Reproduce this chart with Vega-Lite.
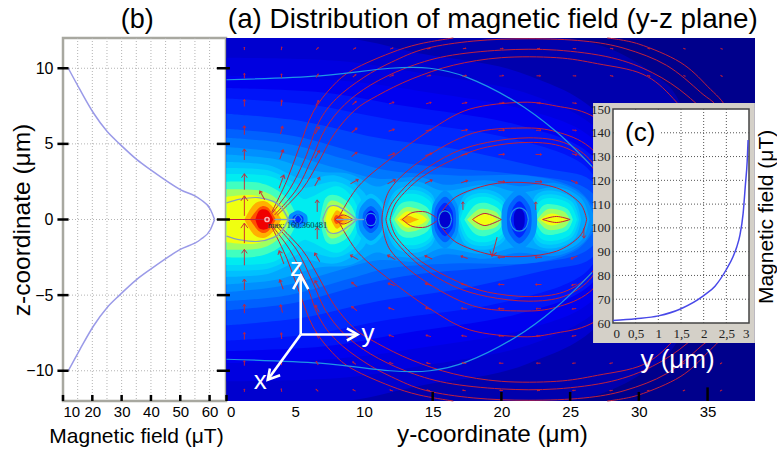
{"$schema":"https://vega.github.io/schema/vega-lite/v6.json","width":777,"height":452,"padding":0,"autosize":"none","background":"white","config":{"view":{"stroke":null},"font":"Liberation Sans","axis":{"grid":false,"domain":false,"ticks":false,"labelColor":"#000","labelFont":"Liberation Sans","titleFont":"Liberation Sans","titleColor":"#000","titleFontWeight":"normal"}},
"datasets":{
"field":[
{"l":0,"i":"bg","y":0,"t":12,"b":-12},{"l":0,"i":"bg","y":38.45,"t":12,"b":-12},
{"l":1,"i":"l1","y":0,"t":12,"b":-12},{"l":1,"i":"l1","y":24,"t":12,"b":-12},{"l":1,"i":"l1","y":32,"t":9,"b":-9},{"l":1,"i":"l1","y":36,"t":0,"b":0},
{"l":2,"i":"l2","y":0,"t":12,"b":-12},{"l":2,"i":"l2","y":8,"t":12,"b":-12},{"l":2,"i":"l2","y":14,"t":11,"b":-11},{"l":2,"i":"l2","y":22,"t":9.5,"b":-9.5},{"l":2,"i":"l2","y":28,"t":6,"b":-6},{"l":2,"i":"l2","y":31,"t":0,"b":0},
{"l":2.5,"i":"l25","y":0,"t":10.7,"b":-10.7},{"l":2.5,"i":"l25","y":8,"t":10.5,"b":-10.5},{"l":2.5,"i":"l25","y":14,"t":9.7,"b":-9.7},{"l":2.5,"i":"l25","y":22,"t":8.3,"b":-8.3},{"l":2.5,"i":"l25","y":27.5,"t":5.5,"b":-5.5},{"l":2.5,"i":"l25","y":30,"t":0,"b":0},
{"l":3,"i":"l3","y":0,"t":9.5,"b":-9.5},{"l":3,"i":"l3","y":8,"t":9.2,"b":-9.2},{"l":3,"i":"l3","y":14,"t":8.5,"b":-8.5},{"l":3,"i":"l3","y":22,"t":7.2,"b":-7.2},{"l":3,"i":"l3","y":27,"t":5,"b":-5},{"l":3,"i":"l3","y":29,"t":0,"b":0},
{"l":3.5,"i":"l35","y":0,"t":8.7,"b":-8.7},{"l":3.5,"i":"l35","y":7,"t":8.4,"b":-8.4},{"l":3.5,"i":"l35","y":13,"t":7.5,"b":-7.5},{"l":3.5,"i":"l35","y":21,"t":6.3,"b":-6.3},{"l":3.5,"i":"l35","y":26.5,"t":4.3,"b":-4.3},{"l":3.5,"i":"l35","y":28.5,"t":0,"b":0},
{"l":4,"i":"l4","y":0,"t":8,"b":-8},{"l":4,"i":"l4","y":6,"t":7.6,"b":-7.6},{"l":4,"i":"l4","y":12,"t":6.6,"b":-6.6},{"l":4,"i":"l4","y":20,"t":5.5,"b":-5.5},{"l":4,"i":"l4","y":26,"t":3.6,"b":-3.6},{"l":4,"i":"l4","y":28,"t":0,"b":0},
{"l":4.5,"i":"l45","y":0,"t":7,"b":-7},{"l":4.5,"i":"l45","y":5.5,"t":6.5,"b":-6.5},{"l":4.5,"i":"l45","y":11,"t":5.4,"b":-5.4},{"l":4.5,"i":"l45","y":17,"t":4.6,"b":-4.6},{"l":4.5,"i":"l45","y":23,"t":3.4,"b":-3.4},{"l":4.5,"i":"l45","y":26.5,"t":2.6,"b":-2.6},{"l":4.5,"i":"l45","y":27.8,"t":0,"b":0},
{"l":5,"i":"l5","y":0,"t":6,"b":-6},{"l":5,"i":"l5","y":5,"t":5.5,"b":-5.5},{"l":5,"i":"l5","y":10,"t":4.3,"b":-4.3},{"l":5,"i":"l5","y":14,"t":3.6,"b":-3.6},{"l":5,"i":"l5","y":20,"t":3.1,"b":-3.1},{"l":5,"i":"l5","y":25,"t":2.5,"b":-2.5},{"l":5,"i":"l5","y":27,"t":1.4,"b":-1.4},{"l":5,"i":"l5","y":27.6,"t":0,"b":0},
{"l":5.5,"i":"l55","y":0,"t":5.4,"b":-5.4},{"l":5.5,"i":"l55","y":4.5,"t":5,"b":-5},{"l":5.5,"i":"l55","y":9,"t":3.9,"b":-3.9},{"l":5.5,"i":"l55","y":12,"t":3.2,"b":-3.2},{"l":5.5,"i":"l55","y":17,"t":2.9,"b":-2.9},{"l":5.5,"i":"l55","y":22,"t":2.9,"b":-2.9},{"l":5.5,"i":"l55","y":25.5,"t":2,"b":-2},{"l":5.5,"i":"l55","y":27.2,"t":0,"b":0},
{"l":6,"i":"l6","y":0,"t":4.8,"b":-4.8},{"l":6,"i":"l6","y":4,"t":4.4,"b":-4.4},{"l":6,"i":"l6","y":8,"t":3.4,"b":-3.4},{"l":6,"i":"l6","y":11,"t":2.7,"b":-2.7},{"l":6,"i":"l6","y":14,"t":2.8,"b":-2.8},{"l":6,"i":"l6","y":16,"t":2.3,"b":-2.3},{"l":6,"i":"l6","y":18.8,"t":2.6,"b":-2.6},{"l":6,"i":"l6","y":21.3,"t":2.2,"b":-2.2},{"l":6,"i":"l6","y":24,"t":2.4,"b":-2.4},{"l":6,"i":"l6","y":26,"t":1.5,"b":-1.5},{"l":6,"i":"l6","y":26.8,"t":0,"b":0},
{"l":6.5,"i":"l65","y":0,"t":4.3,"b":-4.3},{"l":6.5,"i":"l65","y":3.5,"t":4,"b":-4},{"l":6.5,"i":"l65","y":6.5,"t":3.2,"b":-3.2},{"l":6.5,"i":"l65","y":9,"t":3,"b":-3},{"l":6.5,"i":"l65","y":10.8,"t":2.2,"b":-2.2},{"l":6.5,"i":"l65","y":12,"t":2.4,"b":-2.4},{"l":6.5,"i":"l65","y":14,"t":2.5,"b":-2.5},{"l":6.5,"i":"l65","y":15.8,"t":1.9,"b":-1.9},{"l":6.5,"i":"l65","y":18.8,"t":2.3,"b":-2.3},{"l":6.5,"i":"l65","y":21.3,"t":1.8,"b":-1.8},{"l":6.5,"i":"l65","y":24,"t":2.15,"b":-2.15},{"l":6.5,"i":"l65","y":25.8,"t":1.4,"b":-1.4},{"l":6.5,"i":"l65","y":26.4,"t":0,"b":0},
{"l":7,"i":"7a","y":0,"t":3.8,"b":-3.8},{"l":7,"i":"7a","y":3,"t":3.6,"b":-3.6},{"l":7,"i":"7a","y":5.5,"t":2.7,"b":-2.7},{"l":7,"i":"7a","y":8,"t":2.9,"b":-2.9},{"l":7,"i":"7a","y":10,"t":1.8,"b":-1.8},{"l":7,"i":"7a","y":10.6,"t":0,"b":0},
{"l":7,"i":"7c","y":11.4,"t":0,"b":0},{"l":7,"i":"7c","y":12.2,"t":1.8,"b":-1.8},{"l":7,"i":"7c","y":13.7,"t":2.2,"b":-2.2},{"l":7,"i":"7c","y":15,"t":1.6,"b":-1.6},{"l":7,"i":"7c","y":15.4,"t":0,"b":0},
{"l":7,"i":"7d","y":16.7,"t":0,"b":0},{"l":7,"i":"7d","y":17.3,"t":1.6,"b":-1.6},{"l":7,"i":"7d","y":18.8,"t":2,"b":-2},{"l":7,"i":"7d","y":20.2,"t":1.4,"b":-1.4},{"l":7,"i":"7d","y":20.5,"t":0,"b":0},
{"l":7,"i":"7e","y":21.9,"t":0,"b":0},{"l":7,"i":"7e","y":22.5,"t":1.6,"b":-1.6},{"l":7,"i":"7e","y":23.8,"t":1.9,"b":-1.9},{"l":7,"i":"7e","y":25.3,"t":1.3,"b":-1.3},{"l":7,"i":"7e","y":25.8,"t":0,"b":0},
{"l":7.5,"i":"75a","y":0,"t":3.4,"b":-3.4},{"l":7.5,"i":"75a","y":3,"t":3.25,"b":-3.25},{"l":7.5,"i":"75a","y":5,"t":2.4,"b":-2.4},{"l":7.5,"i":"75a","y":5.8,"t":2.1,"b":-2.1},{"l":7.5,"i":"75a","y":8,"t":2.5,"b":-2.5},{"l":7.5,"i":"75a","y":9.6,"t":1.6,"b":-1.6},{"l":7.5,"i":"75a","y":10.2,"t":0,"b":0},
{"l":7.5,"i":"75c","y":11.55,"t":0,"b":0},{"l":7.5,"i":"75c","y":12.3,"t":1.6,"b":-1.6},{"l":7.5,"i":"75c","y":13.65,"t":1.95,"b":-1.95},{"l":7.5,"i":"75c","y":14.9,"t":1.4,"b":-1.4},{"l":7.5,"i":"75c","y":15.3,"t":0,"b":0},
{"l":7.5,"i":"75d","y":16.85,"t":0,"b":0},{"l":7.5,"i":"75d","y":17.45,"t":1.4,"b":-1.4},{"l":7.5,"i":"75d","y":18.8,"t":1.75,"b":-1.75},{"l":7.5,"i":"75d","y":20.1,"t":1.2,"b":-1.2},{"l":7.5,"i":"75d","y":20.4,"t":0,"b":0},
{"l":7.5,"i":"75e","y":22.05,"t":0,"b":0},{"l":7.5,"i":"75e","y":22.65,"t":1.4,"b":-1.4},{"l":7.5,"i":"75e","y":23.8,"t":1.65,"b":-1.65},{"l":7.5,"i":"75e","y":25.15,"t":1.15,"b":-1.15},{"l":7.5,"i":"75e","y":25.65,"t":0,"b":0},
{"l":8,"i":"8a","y":0,"t":3,"b":-3},{"l":8,"i":"8a","y":3,"t":2.9,"b":-2.9},{"l":8,"i":"8a","y":4.5,"t":2.2,"b":-2.2},{"l":8,"i":"8a","y":5.5,"t":1.4,"b":-1.4},{"l":8,"i":"8a","y":6.2,"t":1.5,"b":-1.5},{"l":8,"i":"8a","y":8,"t":2.2,"b":-2.2},{"l":8,"i":"8a","y":9.2,"t":1.4,"b":-1.4},{"l":8,"i":"8a","y":9.8,"t":0,"b":0},
{"l":8,"i":"8c","y":11.7,"t":0,"b":0},{"l":8,"i":"8c","y":12.4,"t":1.4,"b":-1.4},{"l":8,"i":"8c","y":13.6,"t":1.7,"b":-1.7},{"l":8,"i":"8c","y":14.8,"t":1.2,"b":-1.2},{"l":8,"i":"8c","y":15.2,"t":0,"b":0},
{"l":8,"i":"8d","y":17,"t":0,"b":0},{"l":8,"i":"8d","y":17.6,"t":1.2,"b":-1.2},{"l":8,"i":"8d","y":18.8,"t":1.5,"b":-1.5},{"l":8,"i":"8d","y":20,"t":1,"b":-1},{"l":8,"i":"8d","y":20.3,"t":0,"b":0},
{"l":8,"i":"8e","y":22.2,"t":0,"b":0},{"l":8,"i":"8e","y":22.8,"t":1.2,"b":-1.2},{"l":8,"i":"8e","y":23.8,"t":1.4,"b":-1.4},{"l":8,"i":"8e","y":25,"t":1,"b":-1},{"l":8,"i":"8e","y":25.5,"t":0,"b":0},
{"l":9,"i":"9a","y":0,"t":2.5,"b":-2.5},{"l":9,"i":"9a","y":2.5,"t":2.4,"b":-2.4},{"l":9,"i":"9a","y":4.3,"t":1.5,"b":-1.5},{"l":9,"i":"9a","y":5.2,"t":0,"b":0},
{"l":9,"i":"9b","y":6.8,"t":0,"b":0},{"l":9,"i":"9b","y":7.2,"t":1.4,"b":-1.4},{"l":9,"i":"9b","y":8,"t":1.6,"b":-1.6},{"l":9,"i":"9b","y":9,"t":1,"b":-1},{"l":9,"i":"9b","y":9.5,"t":0,"b":0},
{"l":9,"i":"9c","y":12,"t":0,"b":0},{"l":9,"i":"9c","y":12.6,"t":1,"b":-1},{"l":9,"i":"9c","y":13.5,"t":1.2,"b":-1.2},{"l":9,"i":"9c","y":14.6,"t":0.8,"b":-0.8},{"l":9,"i":"9c","y":15,"t":0,"b":0},
{"l":9,"i":"9d","y":17.3,"t":0,"b":0},{"l":9,"i":"9d","y":18,"t":0.9,"b":-0.9},{"l":9,"i":"9d","y":18.8,"t":1.1,"b":-1.1},{"l":9,"i":"9d","y":19.8,"t":0.7,"b":-0.7},{"l":9,"i":"9d","y":20.2,"t":0,"b":0},
{"l":9,"i":"9e","y":22.4,"t":0,"b":0},{"l":9,"i":"9e","y":23,"t":0.9,"b":-0.9},{"l":9,"i":"9e","y":23.8,"t":1,"b":-1},{"l":9,"i":"9e","y":24.8,"t":0.7,"b":-0.7},{"l":9,"i":"9e","y":25.2,"t":0,"b":0},
{"l":10,"i":"Aa","y":0,"t":2,"b":-2},{"l":10,"i":"Aa","y":2.5,"t":1.9,"b":-1.9},{"l":10,"i":"Aa","y":4,"t":1.1,"b":-1.1},{"l":10,"i":"Aa","y":4.7,"t":0,"b":0},
{"l":10,"i":"Ab","y":7,"t":0,"b":0},{"l":10,"i":"Ab","y":7.4,"t":1.1,"b":-1.1},{"l":10,"i":"Ab","y":8,"t":1.2,"b":-1.2},{"l":10,"i":"Ab","y":8.8,"t":0.7,"b":-0.7},{"l":10,"i":"Ab","y":9.3,"t":0,"b":0},
{"l":10,"i":"Ac","y":12.2,"t":0,"b":0},{"l":10,"i":"Ac","y":12.8,"t":0.7,"b":-0.7},{"l":10,"i":"Ac","y":13.5,"t":0.8,"b":-0.8},{"l":10,"i":"Ac","y":14.4,"t":0.5,"b":-0.5},{"l":10,"i":"Ac","y":14.8,"t":0,"b":0},
{"l":10,"i":"Ad","y":17.5,"t":0,"b":0},{"l":10,"i":"Ad","y":18.2,"t":0.6,"b":-0.6},{"l":10,"i":"Ad","y":18.8,"t":0.7,"b":-0.7},{"l":10,"i":"Ad","y":19.6,"t":0.5,"b":-0.5},{"l":10,"i":"Ad","y":20,"t":0,"b":0},
{"l":10,"i":"Ae","y":22.6,"t":0,"b":0},{"l":10,"i":"Ae","y":23.2,"t":0.6,"b":-0.6},{"l":10,"i":"Ae","y":23.8,"t":0.7,"b":-0.7},{"l":10,"i":"Ae","y":24.6,"t":0.5,"b":-0.5},{"l":10,"i":"Ae","y":25,"t":0,"b":0},
{"l":11,"i":"Ba","y":0,"t":1.5,"b":-1.5},{"l":11,"i":"Ba","y":2,"t":1.6,"b":-1.6},{"l":11,"i":"Ba","y":3.6,"t":1,"b":-1},{"l":11,"i":"Ba","y":4.4,"t":0,"b":0},
{"l":11,"i":"Bb","y":7.2,"t":0,"b":0},{"l":11,"i":"Bb","y":7.5,"t":0.8,"b":-0.8},{"l":11,"i":"Bb","y":8,"t":0.9,"b":-0.9},{"l":11,"i":"Bb","y":8.6,"t":0.5,"b":-0.5},{"l":11,"i":"Bb","y":9.1,"t":0,"b":0},
{"l":11,"i":"Bc","y":12.4,"t":0,"b":0},{"l":11,"i":"Bc","y":13,"t":0.5,"b":-0.5},{"l":11,"i":"Bc","y":13.5,"t":0.5,"b":-0.5},{"l":11,"i":"Bc","y":14.2,"t":0.3,"b":-0.3},{"l":11,"i":"Bc","y":14.6,"t":0,"b":0},
{"l":11,"i":"Bd","y":17.8,"t":0,"b":0},{"l":11,"i":"Bd","y":18.5,"t":0.35,"b":-0.35},{"l":11,"i":"Bd","y":19,"t":0.35,"b":-0.35},{"l":11,"i":"Bd","y":19.7,"t":0,"b":0},
{"l":11,"i":"Be","y":22.8,"t":0,"b":0},{"l":11,"i":"Be","y":23.4,"t":0.35,"b":-0.35},{"l":11,"i":"Be","y":24,"t":0.35,"b":-0.35},{"l":11,"i":"Be","y":24.8,"t":0,"b":0},
{"l":12,"i":"Ca","y":1.3,"t":0,"b":0},{"l":12,"i":"Ca","y":2,"t":1,"b":-1},{"l":12,"i":"Ca","y":2.8,"t":1.2,"b":-1.2},{"l":12,"i":"Ca","y":3.5,"t":0.7,"b":-0.7},{"l":12,"i":"Ca","y":4,"t":0,"b":0},
{"l":12,"i":"Cb","y":7.6,"t":0,"b":0},{"l":12,"i":"Cb","y":8,"t":0.6,"b":-0.6},{"l":12,"i":"Cb","y":8.5,"t":0.3,"b":-0.3},{"l":12,"i":"Cb","y":9,"t":0,"b":0},
{"l":12,"i":"Cc","y":12.6,"t":0,"b":0},{"l":12,"i":"Cc","y":13.2,"t":0.25,"b":-0.25},{"l":12,"i":"Cc","y":13.7,"t":0.1,"b":-0.1},{"l":12,"i":"Cc","y":14,"t":0,"b":0},
{"l":13,"i":"Da","y":1.7,"t":0,"b":0},{"l":13,"i":"Da","y":2.4,"t":0.8,"b":-0.8},{"l":13,"i":"Da","y":3,"t":0.8,"b":-0.8},{"l":13,"i":"Da","y":3.6,"t":0,"b":0},
{"l":13,"i":"Db","y":7.8,"t":0,"b":0},{"l":13,"i":"Db","y":8,"t":0.3,"b":-0.3},{"l":13,"i":"Db","y":8.6,"t":0,"b":0},
{"l":14,"i":"Ea","y":2.1,"t":0,"b":0},{"l":14,"i":"Ea","y":2.4,"t":0.6,"b":-0.6},{"l":14,"i":"Ea","y":3,"t":0.6,"b":-0.6},{"l":14,"i":"Ea","y":3.4,"t":0,"b":0},
{"l":6,"i":"h1","y":4.5,"t":0,"b":0},{"l":6,"i":"h1","y":4.6,"t":0.33,"b":-0.33},{"l":6,"i":"h1","y":5.2,"t":0.6,"b":-0.6},{"l":6,"i":"h1","y":5.8,"t":0.33,"b":-0.33},{"l":6,"i":"h1","y":5.9,"t":0,"b":0},
{"l":4,"i":"h2","y":4.8,"t":0,"b":0},{"l":4,"i":"h2","y":4.86,"t":0.2,"b":-0.2},{"l":4,"i":"h2","y":5.2,"t":0.35,"b":-0.35},{"l":4,"i":"h2","y":5.54,"t":0.2,"b":-0.2},{"l":4,"i":"h2","y":5.6,"t":0,"b":0},
{"l":7,"i":"h30","y":9.4,"t":0,"b":0},{"l":7,"i":"h30","y":9.56,"t":0.95,"b":-0.95},{"l":7,"i":"h30","y":10.5,"t":1.7,"b":-1.7},{"l":7,"i":"h30","y":11.44,"t":0.95,"b":-0.95},{"l":7,"i":"h30","y":11.6,"t":0,"b":0},
{"l":6,"i":"h3","y":9.6,"t":0,"b":0},{"l":6,"i":"h3","y":9.74,"t":0.77,"b":-0.77},{"l":6,"i":"h3","y":10.5,"t":1.4,"b":-1.4},{"l":6,"i":"h3","y":11.26,"t":0.77,"b":-0.77},{"l":6,"i":"h3","y":11.4,"t":0,"b":0},
{"l":5,"i":"h4","y":9.9,"t":0,"b":0},{"l":5,"i":"h4","y":9.99,"t":0.5,"b":-0.5},{"l":5,"i":"h4","y":10.5,"t":0.9,"b":-0.9},{"l":5,"i":"h4","y":11.01,"t":0.5,"b":-0.5},{"l":5,"i":"h4","y":11.1,"t":0,"b":0},
{"l":3,"i":"h5","y":10.1,"t":0,"b":0},{"l":3,"i":"h5","y":10.16,"t":0.33,"b":-0.33},{"l":3,"i":"h5","y":10.5,"t":0.6,"b":-0.6},{"l":3,"i":"h5","y":10.84,"t":0.33,"b":-0.33},{"l":3,"i":"h5","y":10.9,"t":0,"b":0},
{"l":6,"i":"h6","y":14.9,"t":0,"b":0},{"l":6,"i":"h6","y":15.05,"t":1.05,"b":-1.05},{"l":6,"i":"h6","y":15.9,"t":1.9,"b":-1.9},{"l":6,"i":"h6","y":16.75,"t":1.05,"b":-1.05},{"l":6,"i":"h6","y":16.9,"t":0,"b":0},
{"l":5,"i":"h7","y":15.1,"t":0,"b":0},{"l":5,"i":"h7","y":15.22,"t":0.82,"b":-0.82},{"l":5,"i":"h7","y":15.9,"t":1.5,"b":-1.5},{"l":5,"i":"h7","y":16.58,"t":0.82,"b":-0.82},{"l":5,"i":"h7","y":16.7,"t":0,"b":0},
{"l":4,"i":"h8","y":15.3,"t":0,"b":0},{"l":4,"i":"h8","y":15.39,"t":0.6,"b":-0.6},{"l":4,"i":"h8","y":15.9,"t":1.1,"b":-1.1},{"l":4,"i":"h8","y":16.41,"t":0.6,"b":-0.6},{"l":4,"i":"h8","y":16.5,"t":0,"b":0},
{"l":2,"i":"h9","y":15.5,"t":0,"b":0},{"l":2,"i":"h9","y":15.56,"t":0.38,"b":-0.38},{"l":2,"i":"h9","y":15.9,"t":0.7,"b":-0.7},{"l":2,"i":"h9","y":16.24,"t":0.38,"b":-0.38},{"l":2,"i":"h9","y":16.3,"t":0,"b":0},
{"l":6,"i":"hA","y":20,"t":0,"b":0},{"l":6,"i":"hA","y":20.2,"t":1.1,"b":-1.1},{"l":6,"i":"hA","y":21.3,"t":2,"b":-2},{"l":6,"i":"hA","y":22.4,"t":1.1,"b":-1.1},{"l":6,"i":"hA","y":22.6,"t":0,"b":0},
{"l":5,"i":"hB","y":20.4,"t":0,"b":0},{"l":5,"i":"hB","y":20.54,"t":0.88,"b":-0.88},{"l":5,"i":"hB","y":21.3,"t":1.6,"b":-1.6},{"l":5,"i":"hB","y":22.06,"t":0.88,"b":-0.88},{"l":5,"i":"hB","y":22.2,"t":0,"b":0},
{"l":4,"i":"hC","y":20.7,"t":0,"b":0},{"l":4,"i":"hC","y":20.79,"t":0.66,"b":-0.66},{"l":4,"i":"hC","y":21.3,"t":1.2,"b":-1.2},{"l":4,"i":"hC","y":21.81,"t":0.66,"b":-0.66},{"l":4,"i":"hC","y":21.9,"t":0,"b":0},
{"l":2,"i":"hD","y":20.9,"t":0,"b":0},{"l":2,"i":"hD","y":20.96,"t":0.44,"b":-0.44},{"l":2,"i":"hD","y":21.3,"t":0.8,"b":-0.8},{"l":2,"i":"hD","y":21.64,"t":0.44,"b":-0.44},{"l":2,"i":"hD","y":21.7,"t":0,"b":0}
],
"red":[
{"i":"a1","y":3.3,"z":0.5,"n":-0.5},{"i":"a1","y":4.4,"z":2.6,"n":-2.6},{"i":"a1","y":5.3,"z":4.8,"n":-4.8},{"i":"a1","y":6.3,"z":7.1,"n":-7.1},{"i":"a1","y":7.7,"z":8.8,"n":-8.8},{"i":"a1","y":9.2,"z":9.9,"n":-9.9},{"i":"a1","y":11.9,"z":11,"n":-11},{"i":"a1","y":14,"z":11.6,"n":-11.6},{"i":"a1","y":16.5,"z":12,"n":-12},
{"i":"a2","y":27.7,"z":12,"n":-12},{"i":"a2","y":30,"z":11.6,"n":-11.6},{"i":"a2","y":33,"z":10.4,"n":-10.4},{"i":"a2","y":35,"z":8.8,"n":-8.8},{"i":"a2","y":36.6,"z":7,"n":-7},{"i":"a2","y":38,"z":3,"n":-3},
{"i":"b","y":3.3,"z":0.4,"n":-0.4},{"i":"b","y":4.6,"z":2,"n":-2},{"i":"b","y":5.7,"z":4,"n":-4},{"i":"b","y":6.7,"z":6.4,"n":-6.4},{"i":"b","y":8,"z":8,"n":-8},{"i":"b","y":10,"z":9.4,"n":-9.4},{"i":"b","y":12,"z":10.4,"n":-10.4},{"i":"b","y":14.5,"z":11.3,"n":-11.3},{"i":"b","y":18,"z":11.8,"n":-11.8},{"i":"b","y":22,"z":11.95,"n":-11.95},{"i":"b","y":26,"z":11.8,"n":-11.8},{"i":"b","y":29,"z":11.3,"n":-11.3},{"i":"b","y":32,"z":10.2,"n":-10.2},{"i":"b","y":34.5,"z":8.4,"n":-8.4},{"i":"b","y":36,"z":7,"n":-7},{"i":"b","y":37.5,"z":3,"n":-3},
{"i":"c","y":3.5,"z":0.3,"n":-0.3},{"i":"c","y":5.1,"z":2,"n":-2},{"i":"c","y":6.2,"z":4,"n":-4},{"i":"c","y":7.2,"z":6,"n":-6},{"i":"c","y":8.6,"z":7.6,"n":-7.6},{"i":"c","y":10.5,"z":8.9,"n":-8.9},{"i":"c","y":13,"z":10,"n":-10},{"i":"c","y":16,"z":10.8,"n":-10.8},{"i":"c","y":20,"z":11.2,"n":-11.2},{"i":"c","y":24,"z":11.2,"n":-11.2},{"i":"c","y":28,"z":10.7,"n":-10.7},{"i":"c","y":31,"z":9.7,"n":-9.7},{"i":"c","y":33.5,"z":8.2,"n":-8.2},{"i":"c","y":35.3,"z":6.4,"n":-6.4},{"i":"c","y":37,"z":3,"n":-3},
{"i":"d","y":3.7,"z":0.3,"n":-0.3},{"i":"d","y":5.5,"z":2,"n":-2},{"i":"d","y":6.7,"z":3.8,"n":-3.8},{"i":"d","y":7.8,"z":5.6,"n":-5.6},{"i":"d","y":9.3,"z":7.2,"n":-7.2},{"i":"d","y":11,"z":8.2,"n":-8.2},{"i":"d","y":13.5,"z":9.3,"n":-9.3},{"i":"d","y":16.5,"z":10.2,"n":-10.2},{"i":"d","y":20,"z":10.7,"n":-10.7},{"i":"d","y":24,"z":10.7,"n":-10.7},{"i":"d","y":27,"z":10.3,"n":-10.3},{"i":"d","y":30.3,"z":9.6,"n":-9.6},{"i":"d","y":32.5,"z":8,"n":-8},{"i":"d","y":34.5,"z":5.5,"n":-5.5},{"i":"d","y":36,"z":2.5,"n":-2.5},
{"i":"e","y":8.2,"z":0.2,"n":-0.2},{"i":"e","y":9.6,"z":2.2,"n":-2.2},{"i":"e","y":11.9,"z":4,"n":-4},{"i":"e","y":14.8,"z":5.9,"n":-5.9},{"i":"e","y":17.7,"z":7.3,"n":-7.3},{"i":"e","y":21.5,"z":7.75,"n":-7.75},{"i":"e","y":24,"z":7.5,"n":-7.5},{"i":"e","y":26.5,"z":6.9,"n":-6.9},{"i":"e","y":29.5,"z":5,"n":-5},
{"i":"f","y":11.3,"z":0,"n":0},{"i":"f","y":11.9,"z":2,"n":-2},{"i":"f","y":14.3,"z":4,"n":-4},{"i":"f","y":17.9,"z":5.7,"n":-5.7},{"i":"f","y":21.5,"z":6.05,"n":-6.05},{"i":"f","y":24,"z":5.8,"n":-5.8},{"i":"f","y":26.4,"z":4.8,"n":-4.8},{"i":"f","y":28.5,"z":2.5,"n":-2.5},
{"i":"g","y":11.6,"z":0,"n":0},{"i":"g","y":12.1,"z":1.2,"n":-1.2},{"i":"g","y":14,"z":3,"n":-3},{"i":"g","y":16.5,"z":4.4,"n":-4.4},{"i":"g","y":19,"z":5.1,"n":-5.1},{"i":"g","y":22,"z":5.4,"n":-5.4},{"i":"g","y":24.5,"z":5.1,"n":-5.1},{"i":"g","y":26.4,"z":4,"n":-4},{"i":"g","y":27.8,"z":2,"n":-2},
{"i":"h","y":11.9,"z":0,"n":0},{"i":"h","y":12.4,"z":1.2,"n":-1.2},{"i":"h","y":14.2,"z":2.8,"n":-2.8},{"i":"h","y":16.8,"z":4.1,"n":-4.1},{"i":"h","y":19,"z":4.8,"n":-4.8},{"i":"h","y":22,"z":5.1,"n":-5.1},{"i":"h","y":24.5,"z":4.8,"n":-4.8},{"i":"h","y":26.4,"z":3.7,"n":-3.7},{"i":"h","y":27.5,"z":2,"n":-2},
{"i":"o","y":15.5,"z":0.3,"n":-0.3},{"i":"o","y":16.7,"z":1.5,"n":-1.5},{"i":"o","y":19.1,"z":2.3,"n":-2.3},{"i":"o","y":21.5,"z":2.45,"n":-2.45},{"i":"o","y":24,"z":2.1,"n":-2.1},{"i":"o","y":25.7,"z":1.1,"n":-1.1},{"i":"o","y":26.2,"z":0,"n":0},
{"i":"x","y":0,"z":0,"n":0},{"i":"x","y":3,"z":0,"n":0},
{"i":"lb","y":7.9,"z":0,"n":0},{"i":"lb","y":8.5,"z":0.3,"n":-0.3},{"i":"lb","y":9.2,"z":0,"n":0},
{"i":"lc","y":12.8,"z":0,"n":0},{"i":"lc","y":13.5,"z":0.45,"n":-0.45},{"i":"lc","y":14.5,"z":0.5,"n":-0.5},{"i":"lc","y":15.3,"z":0.1,"n":-0.1},
{"i":"ld","y":17.9,"z":0,"n":0},{"i":"ld","y":18.8,"z":0.4,"n":-0.4},{"i":"ld","y":20,"z":0,"n":0},
{"i":"le","y":23,"z":0,"n":0},{"i":"le","y":24,"z":0.2,"n":-0.2},{"i":"le","y":25,"z":0,"n":0}
],
"teal":[
{"i":"t","y":0,"z":9.24,"n":-9.24},{"i":"t","y":6.8,"z":9.5,"n":-9.5},{"i":"t","y":11.9,"z":10,"n":-10},{"i":"t","y":14.8,"z":10,"n":-10},{"i":"t","y":17.5,"z":9.4,"n":-9.4},{"i":"t","y":21,"z":7.8,"n":-7.8},{"i":"t","y":24,"z":5.8,"n":-5.8},{"i":"t","y":26.6,"z":3.5,"n":-3.5},
{"i":"r1","y":15.42,"z":0,"n":0},{"i":"r1","y":15.56,"z":0.4,"n":-0.4},{"i":"r1","y":15.9,"z":0.57,"n":-0.57},{"i":"r1","y":16.24,"z":0.4,"n":-0.4},{"i":"r1","y":16.38,"z":0,"n":0},
{"i":"r2","y":20.63,"z":0,"n":0},{"i":"r2","y":20.83,"z":0.55,"n":-0.55},{"i":"r2","y":21.3,"z":0.77,"n":-0.77},{"i":"r2","y":21.77,"z":0.55,"n":-0.55},{"i":"r2","y":21.97,"z":0,"n":0},
{"i":"r3","y":10.1,"z":0,"n":0},{"i":"r3","y":10.22,"z":0.3,"n":-0.3},{"i":"r3","y":10.5,"z":0.4,"n":-0.4},{"i":"r3","y":10.78,"z":0.3,"n":-0.3},{"i":"r3","y":10.9,"z":0,"n":0},
{"i":"r4","y":4.9,"z":0,"n":0},{"i":"r4","y":5.2,"z":0.3,"n":-0.3},{"i":"r4","y":5.5,"z":0,"n":0}
],
"gray":[
{"i":"g1","y":0,"z":1.1,"n":-1.1},{"i":"g1","y":1,"z":1.35,"n":-1.35},{"i":"g1","y":2.3,"z":1.45,"n":-1.45},{"i":"g1","y":3.4,"z":1.2,"n":-1.2},{"i":"g1","y":4,"z":0.8,"n":-0.8},{"i":"g1","y":4.5,"z":0,"n":0},
{"i":"g2","y":7,"z":0,"n":0},{"i":"g2","y":7.4,"z":0.8,"n":-0.8},{"i":"g2","y":8,"z":0.9,"n":-0.9},{"i":"g2","y":8.8,"z":0.5,"n":-0.5},{"i":"g2","y":9.5,"z":0,"n":0},
{"i":"g3","y":3.5,"z":0,"n":0},{"i":"g3","y":5,"z":0,"n":0},
{"i":"g4","y":8,"z":0,"n":0},{"i":"g4","y":10,"z":0,"n":0}
],
"arrows":[
{"y":1.3,"z":11.3,"n":-11.3,"a":0,"m":0,"s":9},{"y":1.3,"z":9.5,"n":-9.5,"a":0,"m":0,"s":25},{"y":1.3,"z":7.7,"n":-7.7,"a":0,"m":0,"s":49},{"y":1.3,"z":5.9,"n":-5.9,"a":0,"m":0,"s":81},{"y":1.3,"z":4.3,"n":-4.3,"a":0,"m":0,"s":121},{"y":1.3,"z":2.5,"n":-2.5,"a":0,"m":0,"s":256},{"y":1.3,"z":0.9,"n":-0.9,"a":0,"m":0,"s":400},
{"y":4,"z":11.3,"n":-11.3,"a":10,"m":-10,"s":9},{"y":4,"z":9.5,"n":-9.5,"a":0,"m":0,"s":16},{"y":4,"z":7.7,"n":-7.7,"a":5,"m":-5,"s":36},{"y":4,"z":5.9,"n":-5.9,"a":15,"m":-15,"s":64},{"y":4,"z":4.3,"n":-4.3,"a":20,"m":-20,"s":100},{"y":4,"z":2.5,"n":-2.5,"a":20,"m":-20,"s":196},
{"y":6.6,"z":11.3,"n":-11.3,"a":45,"m":-45,"s":9},{"y":6.6,"z":9.5,"n":-9.5,"a":30,"m":-30,"s":16},{"y":6.6,"z":7.7,"n":-7.7,"a":30,"m":-30,"s":36},{"y":6.6,"z":5.9,"n":-5.9,"a":30,"m":-30,"s":64},{"y":6.6,"z":4.3,"n":-4.3,"a":30,"m":-30,"s":81},{"y":6.6,"z":2.5,"n":-2.5,"a":30,"m":-30,"s":100},{"y":6.6,"z":0.9,"n":-0.9,"a":0,"m":0,"s":144},
{"y":9.3,"z":11.3,"n":-11.3,"a":60,"m":-60,"s":9},{"y":9.3,"z":9.5,"n":-9.5,"a":50,"m":-50,"s":16},{"y":9.3,"z":7.7,"n":-7.7,"a":50,"m":-50,"s":25},{"y":9.3,"z":5.9,"n":-5.9,"a":50,"m":-50,"s":49},{"y":9.3,"z":4.3,"n":-4.3,"a":50,"m":-50,"s":49},{"y":9.3,"z":2.5,"n":-2.5,"a":60,"m":-60,"s":81},
{"y":12,"z":11.3,"n":-11.3,"a":70,"m":-70,"s":9},{"y":12,"z":9.5,"n":-9.5,"a":70,"m":-70,"s":16},{"y":12,"z":7.7,"n":-7.7,"a":70,"m":-70,"s":25},{"y":12,"z":5.9,"n":-5.9,"a":70,"m":-70,"s":36},{"y":12,"z":4.3,"n":-4.3,"a":70,"m":-70,"s":49},{"y":12,"z":2.5,"n":-2.5,"a":60,"m":-60,"s":81},
{"y":14.7,"z":11.3,"n":-11.3,"a":75,"m":-75,"s":9},{"y":14.7,"z":9.5,"n":-9.5,"a":75,"m":-75,"s":16},{"y":14.7,"z":7.7,"n":-7.7,"a":75,"m":-75,"s":25},{"y":14.7,"z":5.9,"n":-5.9,"a":75,"m":-75,"s":36},{"y":14.7,"z":4.3,"n":-4.3,"a":70,"m":-70,"s":49},{"y":14.7,"z":2.5,"n":-2.5,"a":65,"m":-65,"s":64},
{"y":17.3,"z":11.3,"n":-11.3,"a":80,"m":-80,"s":9},{"y":17.3,"z":9.5,"n":-9.5,"a":80,"m":-80,"s":16},{"y":17.3,"z":7.7,"n":-7.7,"a":80,"m":-80,"s":25},{"y":17.3,"z":5.9,"n":-5.9,"a":80,"m":-80,"s":36},{"y":17.3,"z":4.3,"n":-4.3,"a":75,"m":-75,"s":36},{"y":17.3,"z":2.5,"n":-2.5,"a":70,"m":-70,"s":49},
{"y":20,"z":11.3,"n":-11.3,"a":85,"m":-85,"s":9},{"y":20,"z":9.5,"n":-9.5,"a":85,"m":-85,"s":16},{"y":20,"z":7.7,"n":-7.7,"a":85,"m":-85,"s":25},{"y":20,"z":5.9,"n":-5.9,"a":85,"m":-85,"s":36},{"y":20,"z":4.3,"n":-4.3,"a":85,"m":-85,"s":36},{"y":20,"z":2.5,"n":-2.5,"a":90,"m":-90,"s":49},
{"y":22.7,"z":11.3,"n":-11.3,"a":90,"m":-90,"s":9},{"y":22.7,"z":9.5,"n":-9.5,"a":90,"m":-90,"s":16},{"y":22.7,"z":7.7,"n":-7.7,"a":90,"m":-90,"s":16},{"y":22.7,"z":5.9,"n":-5.9,"a":90,"m":-90,"s":25},{"y":22.7,"z":4.3,"n":-4.3,"a":90,"m":-90,"s":36},{"y":22.7,"z":2.5,"n":-2.5,"a":90,"m":-90,"s":49},
{"y":25.3,"z":11.3,"n":-11.3,"a":95,"m":-95,"s":9},{"y":25.3,"z":9.5,"n":-9.5,"a":95,"m":-95,"s":9},{"y":25.3,"z":7.7,"n":-7.7,"a":100,"m":-100,"s":16},{"y":25.3,"z":5.9,"n":-5.9,"a":100,"m":-100,"s":16},{"y":25.3,"z":4.3,"n":-4.3,"a":105,"m":-105,"s":25},{"y":25.3,"z":2.5,"n":-2.5,"a":115,"m":-115,"s":49},
{"y":28,"z":11.3,"n":-11.3,"a":100,"m":-100,"s":9},{"y":28,"z":9.5,"n":-9.5,"a":105,"m":-105,"s":9},
{"y":30.7,"z":11.3,"n":-11.3,"a":105,"m":-105,"s":4},{"y":30.7,"z":9.5,"n":-9.5,"a":110,"m":-110,"s":9},
{"y":33.3,"z":11.3,"n":-11.3,"a":110,"m":-110,"s":4},{"y":33.3,"z":9.5,"n":-9.5,"a":115,"m":-115,"s":4},
{"y":36,"z":11.3,"n":-11.3,"a":120,"m":-120,"s":4},{"y":36,"z":9.5,"n":-9.5,"a":125,"m":-125,"s":4}
],
"bigArrows":[
{"y":17.2,"z":0.9,"a":0,"s":64},{"y":22.5,"z":0.9,"a":0,"s":64},{"y":26,"z":-0.9,"a":180,"s":100},{"y":19.5,"z":-1.8,"a":195,"s":400},{"y":2.6,"z":1.6,"a":-30,"s":100}
],
"frame":[
{"i":"hz","o":1,"y":5.4,"z":-7.6},{"i":"hz","o":2,"y":5.4,"z":-3.7},
{"i":"cz","o":1,"y":4.85,"z":-4.6},{"i":"cz","o":2,"y":5.4,"z":-3.7},{"i":"cz","o":3,"y":5.95,"z":-4.6},
{"i":"hy","o":1,"y":5.4,"z":-7.6},{"i":"hy","o":2,"y":9.53,"z":-7.6},
{"i":"cy","o":1,"y":8.76,"z":-7.2},{"i":"cy","o":2,"y":9.53,"z":-7.6},{"i":"cy","o":3,"y":8.76,"z":-8},
{"i":"hx","o":1,"y":5.4,"z":-7.6},{"i":"hx","o":2,"y":3,"z":-10.6},
{"i":"cx","o":1,"y":3.16,"z":-9.85},{"i":"cx","o":2,"y":3,"z":-10.6},{"i":"cx","o":3,"y":3.9,"z":-10.3}
],
"curveB":[
{"i":"u","v":11.8,"z":10},{"i":"u","v":15.8,"z":8.58},{"i":"u","v":20.4,"z":7.04},{"i":"u","v":25,"z":5.83},{"i":"u","v":29.3,"z":5},{"i":"u","v":35.2,"z":3.96},{"i":"u","v":39.8,"z":3.3},{"i":"u","v":50,"z":1.98},{"i":"u","v":56.9,"z":1.32},{"i":"u","v":60.3,"z":0.66},{"i":"u","v":61.7,"z":0},
{"i":"d","v":11.8,"z":-10},{"i":"d","v":15.8,"z":-8.58},{"i":"d","v":20.4,"z":-7.04},{"i":"d","v":25,"z":-5.83},{"i":"d","v":29.3,"z":-5},{"i":"d","v":35.2,"z":-3.96},{"i":"d","v":39.8,"z":-3.3},{"i":"d","v":50,"z":-1.98},{"i":"d","v":56.9,"z":-1.32},{"i":"d","v":60.3,"z":-0.66},{"i":"d","v":61.7,"z":0}
],
"curveC":[
{"v":0,"w":61},{"v":0.5,"w":61.8},{"v":1,"w":63},{"v":1.5,"w":66},{"v":2,"w":71.5},{"v":2.25,"w":75.5},{"v":2.5,"w":82.5},{"v":2.65,"w":88},{"v":2.73,"w":92},{"v":2.8,"w":97},{"v":2.87,"w":106},{"v":2.92,"w":118},{"v":2.96,"w":128},{"v":2.98,"w":137}
]
},
"layer":[
{"encoding":{"x":{"field":"v","type":"quantitative","scale":{"domain":[10,65.6],"range":[63,226]},"axis":{"orient":"bottom","values":[10,20,30,40,50,60],"offset":-51,"labelFontSize":15,"labelPadding":3,"title":"Magnetic field (μT)","titleFontSize":21,"titlePadding":6,"titleX":136}},"y":{"field":"z","type":"quantitative","scale":{"domain":[-12,12],"range":[401,38]},"axis":{"orient":"left","values":[-10,-5,0,5,10],"offset":-63,"labelFontSize":16,"labelPadding":10,"title":"z-coordinate  (μm)","titleFontSize":24.5,"titlePadding":-9}}},
"layer":[
{"data":{"values":[{"v":10,"v2":65.6,"z":12,"z2":-12}]},"mark":{"type":"rect","fill":"white","stroke":"#a8a8a0","strokeWidth":2.5},"encoding":{"x2":{"field":"v2"},"y2":{"field":"z2"}}},
{"data":{"values":[{"v":15,"z":12,"z2":-12},{"v":20,"z":12,"z2":-12},{"v":25,"z":12,"z2":-12},{"v":30,"z":12,"z2":-12},{"v":35,"z":12,"z2":-12},{"v":40,"z":12,"z2":-12},{"v":45,"z":12,"z2":-12},{"v":50,"z":12,"z2":-12},{"v":55,"z":12,"z2":-12},{"v":60,"z":12,"z2":-12}]},"mark":{"type":"rule","stroke":"#b4b4b4","strokeWidth":1,"strokeDash":[1,2]},"encoding":{"y2":{"field":"z2"}}},
{"data":{"values":[{"v":10,"v2":65.6,"z":10},{"v":10,"v2":65.6,"z":5},{"v":10,"v2":65.6,"z":0},{"v":10,"v2":65.6,"z":-5},{"v":10,"v2":65.6,"z":-10}]},"mark":{"type":"rule","stroke":"#b4b4b4","strokeWidth":1,"strokeDash":[1,2]},"encoding":{"x2":{"field":"v2"}}},
{"data":{"name":"curveB"},"mark":{"type":"line","stroke":"#9a9ae8","strokeWidth":1.5,"interpolate":"monotone"},"encoding":{"detail":{"field":"i"}}},
{"data":{"values":[{"v":8.1,"v2":11.9,"z":10},{"v":8.1,"v2":11.9,"z":5},{"v":8.1,"v2":11.9,"z":0},{"v":8.1,"v2":11.9,"z":-5},{"v":8.1,"v2":11.9,"z":-10}]},"mark":{"type":"rule","stroke":"#000","strokeWidth":2.5},"encoding":{"x2":{"field":"v2"}}},
{"data":{"values":[{"v":10,"z":-12,"z2":-11.6},{"v":20,"z":-12,"z2":-11.6},{"v":30,"z":-12,"z2":-11.6},{"v":40,"z":-12,"z2":-11.6},{"v":50,"z":-12,"z2":-11.6},{"v":60,"z":-12,"z2":-11.6}]},"mark":{"type":"rule","stroke":"#000","strokeWidth":2.5},"encoding":{"y2":{"field":"z2"}}},
{"data":{"values":[{"v":35.3,"z":13.2,"t":"(b)"}]},"mark":{"type":"text","fontSize":27,"font":"Liberation Sans","baseline":"middle","align":"center","color":"#000"},"encoding":{"text":{"field":"t"}}}
]},
{"encoding":{"x":{"field":"y","type":"quantitative","scale":{"domain":[0,38.45],"range":[226.5,755]},"axis":{"orient":"bottom","values":[0,5,10,15,20,25,30,35],"offset":-51,"labelFontSize":15,"labelPadding":3,"title":"y-coordinate  (μm)","titleFontSize":24.3,"titlePadding":3,"titleX":492}},"y":{"field":"z","type":"quantitative","scale":{"domain":[-12,12],"range":[401,38]},"axis":null}},
"layer":[
{"data":{"name":"field"},"transform":[{"filter":"datum.l<=2"}],"mark":{"type":"area","interpolate":"monotone"},"encoding":{"y":{"field":"t","type":"quantitative","scale":{"domain":[-12,12],"range":[401,38]},"axis":null},"y2":{"field":"b"},"detail":{"field":"i"},"color":{"field":"l","type":"ordinal","legend":null,"scale":{"domain":[0,1,2,2.5,3,3.5,4,4.5,5,5.5,6,6.5,7,7.5,8,9,10,11,12,13,14],"range":["#00008c","#0000ad","#0000cf","#0000e0","#0000f0","#0014f8","#0028ff","#0044ff","#0060ff","#0078ff","#0090ff","#00a8ff","#00c0ff","#00d6f8","#00ecf0","#40ffc0","#a0ff60","#f0ff10","#ffb000","#ff5000","#f00000"]}}}},
{"data":{"name":"field"},"transform":[{"filter":"datum.i!='bg'&&datum.i!='l1'&&datum.i!='l2'"}],"mark":{"type":"area","interpolate":"cardinal"},"encoding":{"y":{"field":"t","type":"quantitative","scale":{"domain":[-12,12],"range":[401,38]},"axis":null},"y2":{"field":"b"},"detail":{"field":"i"},"color":{"field":"l","type":"ordinal","legend":null,"scale":{"domain":[0,1,2,2.5,3,3.5,4,4.5,5,5.5,6,6.5,7,7.5,8,9,10,11,12,13,14],"range":["#00008c","#0000ad","#0000cf","#0000e0","#0000f0","#0014f8","#0028ff","#0044ff","#0060ff","#0078ff","#0090ff","#00a8ff","#00c0ff","#00d6f8","#00ecf0","#40ffc0","#a0ff60","#f0ff10","#ffb000","#ff5000","#f00000"]}}}},
{"data":{"name":"red"},"mark":{"type":"line","stroke":"#c0203c","strokeWidth":1,"interpolate":"cardinal"},"encoding":{"detail":{"field":"i"}}},
{"data":{"name":"red"},"mark":{"type":"line","stroke":"#c0203c","strokeWidth":1,"interpolate":"cardinal"},"encoding":{"detail":{"field":"i"},"y":{"field":"n","type":"quantitative","scale":{"domain":[-12,12],"range":[401,38]},"axis":null}}},
{"data":{"name":"teal"},"mark":{"type":"line","stroke":"#1e96e6","strokeWidth":1.2,"interpolate":"cardinal"},"encoding":{"detail":{"field":"i"}}},
{"data":{"name":"teal"},"mark":{"type":"line","stroke":"#1e96e6","strokeWidth":1.2,"interpolate":"cardinal"},"encoding":{"detail":{"field":"i"},"y":{"field":"n","type":"quantitative","scale":{"domain":[-12,12],"range":[401,38]},"axis":null}}},
{"data":{"name":"gray"},"mark":{"type":"line","stroke":"#80a0c0","strokeWidth":1.2,"interpolate":"cardinal"},"encoding":{"detail":{"field":"i"}}},
{"data":{"name":"gray"},"mark":{"type":"line","stroke":"#80a0c0","strokeWidth":1.2,"interpolate":"cardinal"},"encoding":{"detail":{"field":"i"},"y":{"field":"n","type":"quantitative","scale":{"domain":[-12,12],"range":[401,38]},"axis":null}}},
{"data":{"name":"arrows"},"mark":{"type":"point","shape":"M0,-1L0,1M-0.35,-0.5L0,-1L0.35,-0.5","filled":false,"stroke":"#d02030","strokeWidth":1,"opacity":0.9},"encoding":{"size":{"field":"s","type":"quantitative","scale":null},"angle":{"field":"a","type":"quantitative","scale":null}}},
{"data":{"name":"arrows"},"mark":{"type":"point","shape":"M0,-1L0,1M-0.35,-0.5L0,-1L0.35,-0.5","filled":false,"stroke":"#d02030","strokeWidth":1,"opacity":0.9},"encoding":{"size":{"field":"s","type":"quantitative","scale":null},"angle":{"field":"m","type":"quantitative","scale":null},"y":{"field":"n","type":"quantitative","scale":{"domain":[-12,12],"range":[401,38]},"axis":null}}},
{"data":{"name":"bigArrows"},"mark":{"type":"point","shape":"M0,-1L0,1M-0.35,-0.5L0,-1L0.35,-0.5","filled":false,"stroke":"#d02030","strokeWidth":1,"opacity":0.9},"encoding":{"size":{"field":"s","type":"quantitative","scale":null},"angle":{"field":"a","type":"quantitative","scale":null}}},
{"data":{"values":[{"y":2.95,"z":0}]},"mark":{"type":"point","filled":false,"stroke":"white","strokeWidth":1.5,"size":18}},
{"data":{"values":[{"y":3.0,"z":-0.35,"t":"max: 160.360481"}]},"mark":{"type":"text","fontSize":8.5,"font":"Liberation Sans Narrow","align":"left","baseline":"middle","color":"#0a3a40"},"encoding":{"text":{"field":"t"}}},
{"data":{"name":"frame"},"mark":{"type":"line","stroke":"white","strokeWidth":2.6},"encoding":{"detail":{"field":"i"},"order":{"field":"o"}}},
{"data":{"values":[{"y":5.1,"z":-3.2,"t":"z"},{"y":10.3,"z":-7.6,"t":"y"},{"y":2.45,"z":-10.7,"t":"x"}]},"mark":{"type":"text","fontSize":26,"font":"Liberation Sans","baseline":"middle","align":"center","color":"white"},"encoding":{"text":{"field":"t"}}},
{"data":{"values":[{"y":15,"z":-12,"z2":-11.4},{"y":20,"z":-12,"z2":-11.4},{"y":25,"z":-12,"z2":-11.4},{"y":30,"z":-12,"z2":-11.4},{"y":35,"z":-12,"z2":-11.1},{"y":0,"z":-12,"z2":-11.6}]},"mark":{"type":"rule","stroke":"#000","strokeWidth":2.5},"encoding":{"y2":{"field":"z2"}}},
{"data":{"values":[{"y":-0.7,"y2":0.25,"z":10},{"y":-0.7,"y2":0.25,"z":5},{"y":-0.7,"y2":0.25,"z":0},{"y":-0.7,"y2":0.25,"z":-5},{"y":-0.7,"y2":0.25,"z":-10}]},"mark":{"type":"rule","stroke":"#000","strokeWidth":2.5},"encoding":{"x2":{"field":"y2"}}},
{"data":{"values":[{"y":0.1,"z":13.2,"t":"(a) Distribution of magnetic field (y-z plane)"}]},"mark":{"type":"text","fontSize":27.8,"font":"Liberation Sans","baseline":"middle","align":"left","color":"#000"},"encoding":{"text":{"field":"t"}}}
]},
{"encoding":{"x":{"field":"v","type":"quantitative","scale":{"domain":[0,3],"range":[613,749]},"axis":{"orient":"bottom","zindex":1,"values":[0,0.5,1,1.5,2,2.5,3],"format":"~g","labelOverlap":false,"labelExpr":"replace(datum.label,'.',',')","offset":-129,"labelFontSize":13,"labelFont":"Liberation Sans Narrow","labelColor":"#222","labelPadding":4,"title":"y (μm)","titleColor":"white","titleFontSize":26,"titlePadding":6,"titleX":677}},"y":{"field":"w","type":"quantitative","scale":{"domain":[60,150],"range":[323,109]},"axis":{"orient":"left","zindex":1,"values":[60,70,80,90,100,110,120,130,140,150],"offset":-613,"labelFontSize":13,"labelFont":"Liberation Sans Narrow","labelColor":"#222","labelPadding":3,"title":null}}},
"layer":[
{"data":{"values":[{"v":-0.44,"v2":3.13,"w":152.5,"w2":51.6}]},"mark":{"type":"rect","fill":"#d4d0c8"},"encoding":{"x2":{"field":"v2"},"y2":{"field":"w2"}}},
{"data":{"values":[{"v":0,"v2":3,"w":60,"w2":150}]},"mark":{"type":"rect","fill":"white","stroke":"#444","strokeWidth":1.5},"encoding":{"x2":{"field":"v2"},"y2":{"field":"w2"}}},
{"data":{"values":[{"v":0.5,"w":60,"w2":150},{"v":1,"w":60,"w2":150},{"v":1.5,"w":60,"w2":150},{"v":2,"w":60,"w2":150},{"v":2.5,"w":60,"w2":150}]},"mark":{"type":"rule","stroke":"#555","strokeWidth":1,"strokeDash":[1,2]},"encoding":{"y2":{"field":"w2"}}},
{"data":{"values":[{"v":0,"v2":3,"w":70},{"v":0,"v2":3,"w":80},{"v":0,"v2":3,"w":90},{"v":0,"v2":3,"w":100},{"v":0,"v2":3,"w":110},{"v":0,"v2":3,"w":120},{"v":0,"v2":3,"w":130},{"v":0,"v2":3,"w":140}]},"mark":{"type":"rule","stroke":"#555","strokeWidth":1,"strokeDash":[1,2]},"encoding":{"x2":{"field":"v2"}}},
{"data":{"values":[{"v":0.03,"v2":1.05,"w":131,"w2":149}]},"mark":{"type":"rect","fill":"white"},"encoding":{"x2":{"field":"v2"},"y2":{"field":"w2"}}},
{"data":{"name":"curveC"},"mark":{"type":"line","stroke":"#4848e8","strokeWidth":1.5,"interpolate":"monotone"}},
{"data":{"values":[{"v":0.6,"w":140,"t":"(c)"}]},"mark":{"type":"text","fontSize":26,"font":"Liberation Sans","baseline":"middle","align":"center","color":"#000"},"encoding":{"text":{"field":"t"}}},
{"data":{"values":[{"v":3.4,"w":104.6,"t":"Magnetic field (μT)"}]},"mark":{"type":"text","fontSize":21,"font":"Liberation Sans","baseline":"middle","align":"center","color":"#000","angle":270},"encoding":{"text":{"field":"t"}}}
]}
],
"resolve":{"scale":{"x":"independent","y":"independent"},"axis":{"x":"independent","y":"independent"}}}
